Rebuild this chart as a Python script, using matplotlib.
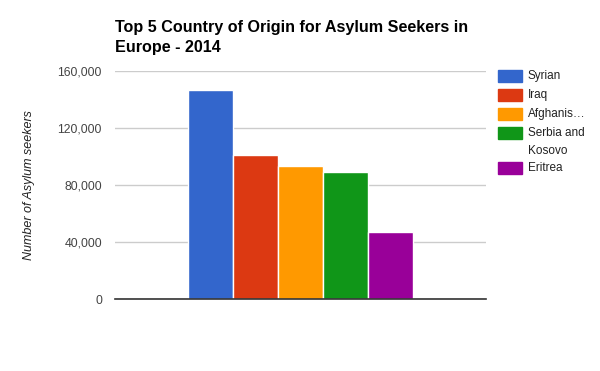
import matplotlib
matplotlib.use("Agg")
import matplotlib.pyplot as plt
from matplotlib.patches import Rectangle
from matplotlib.ticker import FuncFormatter

countries = ["Syrian", "Iraq", "Afghanistan", "Serbia and Kosovo", "Eritrea"]
legend_labels = ["Syrian", "Iraq", "Afghanis…", "Serbia and\nKosovo", "Eritrea"]
seekers = [147000, 101000, 93000, 89000, 47000]
colors = ["#3366cc", "#dc3912", "#ff9900", "#109618", "#990099"]
yticks = [0, 40000, 80000, 120000, 160000]

plt.rcParams['font.family'] = ['Liberation Sans', 'DejaVu Sans']

fig = plt.figure(figsize=(6, 3.71), dpi=100)
ax = fig.add_axes([115/600, 1-299/371, 371/600, 228/371])

n = len(seekers)
group = 0.604
w = group / n
for i, (v, c) in enumerate(zip(seekers, colors)):
    x = -group/2 + w*(i + 0.5)
    ax.bar(x, v, width=w, color=c, edgecolor="white", linewidth=1.0, zorder=3)

ax.set_xlim(-0.5, 0.5)
ax.set_ylim(0, 160000)
ax.set_yticks(yticks)
ax.yaxis.set_major_formatter(FuncFormatter(lambda v, p: f"{int(v):,}"))
ax.set_xticks([])
ax.grid(axis="y", color="#cccccc", linewidth=1, zorder=0)
for s in ["top", "right", "left"]:
    ax.spines[s].set_visible(False)
ax.spines["bottom"].set_color("#333333")
ax.spines["bottom"].set_linewidth(1.2)
ax.spines["bottom"].set_zorder(4)
ax.tick_params(axis="y", length=0, pad=9.4, labelsize=8.8, labelcolor="#444444")

fig.text(29/600, 1-185/371, "Number of Asylum seekers", rotation=90, style="italic",
         fontsize=9, color="#222222", ha="center", va="center")

fig.text(115/600, 1-20/371, "Top 5 Country of Origin for Asylum Seekers in\nEurope - 2014",
         fontsize=11.6, fontweight="bold", color="#000000", ha="left", va="top",
         linespacing=1.4)

# legend
ys = [76, 95, 114, 133, 168]
for lab, c, yy in zip(legend_labels, colors, ys):
    fig.patches.append(Rectangle((498/600, 1-(yy+6)/371), 24/600, 12/371,
                                 transform=fig.transFigure, color=c))
    lines = lab.split("\n")
    for k, line in enumerate(lines):
        fig.text(528/600, 1-(yy + 17.5*k)/371, line, fontsize=8.5, color="#222222",
                 ha="left", va="center")

fig.savefig("out.png", dpi=100, facecolor="white")
